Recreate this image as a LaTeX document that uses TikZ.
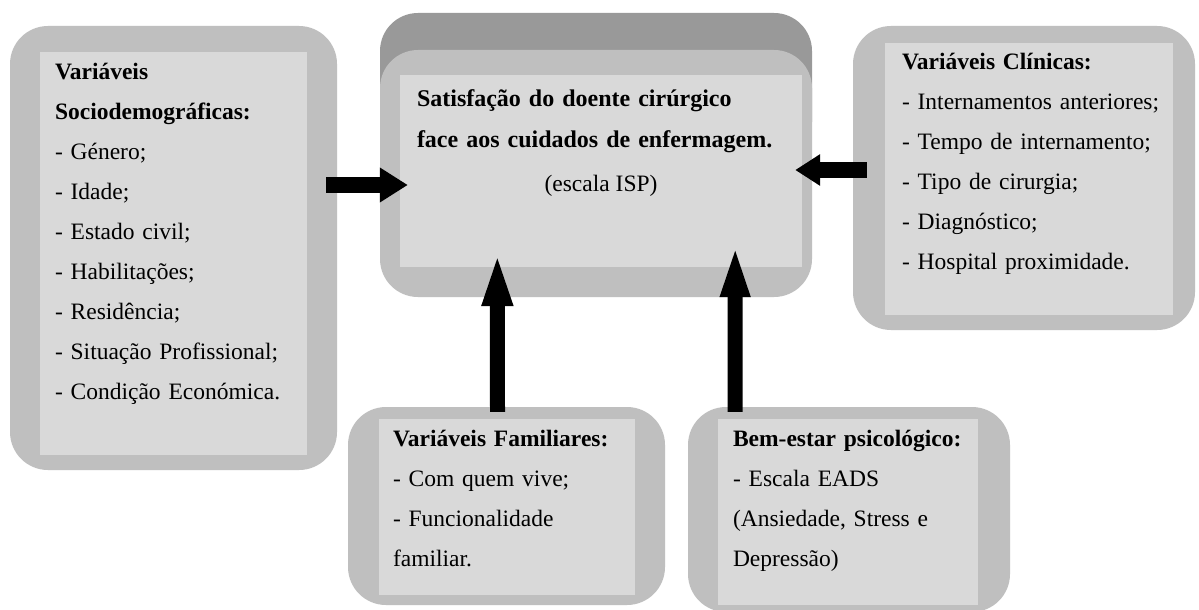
\documentclass[tikz,border=0pt]{standalone}
\usepackage{fontspec}
\setmainfont{Liberation Serif}
\usepackage{tikz}
\usetikzlibrary{positioning}
\usetikzlibrary{arrows.meta}
\definecolor{cinzaf}{gray}{0.75}
\definecolor{cinzap}{gray}{0.85}
\definecolor{cinzat}{gray}{0.60}
\tikzstyle{cadre} = [rectangle, fill=cinzaf, rounded corners=38pt, inner sep=0pt]
\tikzstyle{caixa} = [rectangle, fill=cinzap, inner sep=0pt]
\tikzstyle{texto} = [anchor=base west, inner sep=0pt, align=left, text width=380pt,
font=\fontsize{23.5}{40}\selectfont]
\tikzstyle{seta} = [draw, line width=16pt]

\begin{document}
\begin{tikzpicture}[x=1pt, y=-1pt]
    \path[use as bounding box, fill=white] (0,0) rectangle (1199,610);
    % nodes
    \node [cadre, minimum width=327pt, minimum height=444pt] (socf) at (173.5,248) {};
    \node [caixa, minimum width=267pt, minimum height=403pt] (soc) at (173.5,253.5) {};
    \node [cadre, fill=cinzat, minimum width=432pt, minimum height=147pt] (satt) at (596,86.5) {};
    \node [cadre, minimum width=432pt, minimum height=247pt] (satf) at (596,173.5) {};
    \node [caixa, minimum width=402pt, minimum height=192pt] (sat) at (601,171) {};
    \node [cadre, minimum width=342pt, minimum height=304pt] (clif) at (1024,178) {};
    \node [caixa, minimum width=288pt, minimum height=272pt] (cli) at (1029,179) {};
    \node [cadre, minimum width=317pt, minimum height=198pt] (famf) at (506.5,506) {};
    \node [caixa, minimum width=256pt, minimum height=176pt] (fam) at (507,507) {};
    \node [cadre, minimum width=322pt, minimum height=205pt] (bemf) at (849,509.5) {};
    \node [caixa, minimum width=260pt, minimum height=186pt] (bem) at (848,512) {};

    \node [texto] (soctxt) at ([shift={(15,28)}]soc.north west)
        {\textbf{Variáveis}\\\textbf{Sociodemográficas:}\\- Género;\\- Idade;\\- Estado civil;\\- Habilitações;\\- Residência;\\- Situação Profissional;\\- Condição Económica.};
    \node [texto, font=\fontsize{24}{41}\selectfont] (sattxt) at ([shift={(17,32)}]sat.north west)
        {\textbf{Satisfação do doente cirúrgico}\\\textbf{face aos cuidados de enfermagem.}};
    \node [anchor=base, inner sep=0pt, font=\fontsize{23.5}{40}\selectfont] (isp) at ([shift={(0,117)}]sat.north) {(escala ISP)};
    \node [texto] (clitxt) at ([shift={(17,27)}]cli.north west)
        {\textbf{Variáveis Clínicas:}\\- Internamentos anteriores;\\- Tempo de internamento;\\- Tipo de cirurgia;\\- Diagnóstico;\\- Hospital proximidade.};
    \node [texto] (famtxt) at ([shift={(14,28)}]fam.north west)
        {\textbf{Variáveis Familiares:}\\- Com quem vive;\\- Funcionalidade\\familiar.};
    \node [texto] (bemtxt) at ([shift={(15,28)}]bem.north west)
        {\textbf{Bem-estar psicológico:}\\- Escala EADS\\(Ansiedade, Stress e\\Depressão)};

    % edges
    \path [seta, -{Triangle[length=28pt,width=33pt]}] ([shift={(-11,-63)}]socf.east) -- ([shift={(8,14)}]sat.west);
    \path [seta, -{Triangle[length=25pt,width=30pt]}] ([shift={(14,-8)}]clif.west) -- ([shift={(-7,-1)}]sat.east);
    \path [seta, line width=15pt, -{Triangle[length=56pt,width=27pt]}] ([shift={(-9,5)}]famf.north) -- ([shift={(97.5,-17)}]sat.south west);
    \path [seta, line width=15pt, -{Triangle[length=59pt,width=25pt]}] ([shift={(-114,5)}]bemf.north) -- ([shift={(-67,-29)}]sat.south east);

\end{tikzpicture}
\end{document}
